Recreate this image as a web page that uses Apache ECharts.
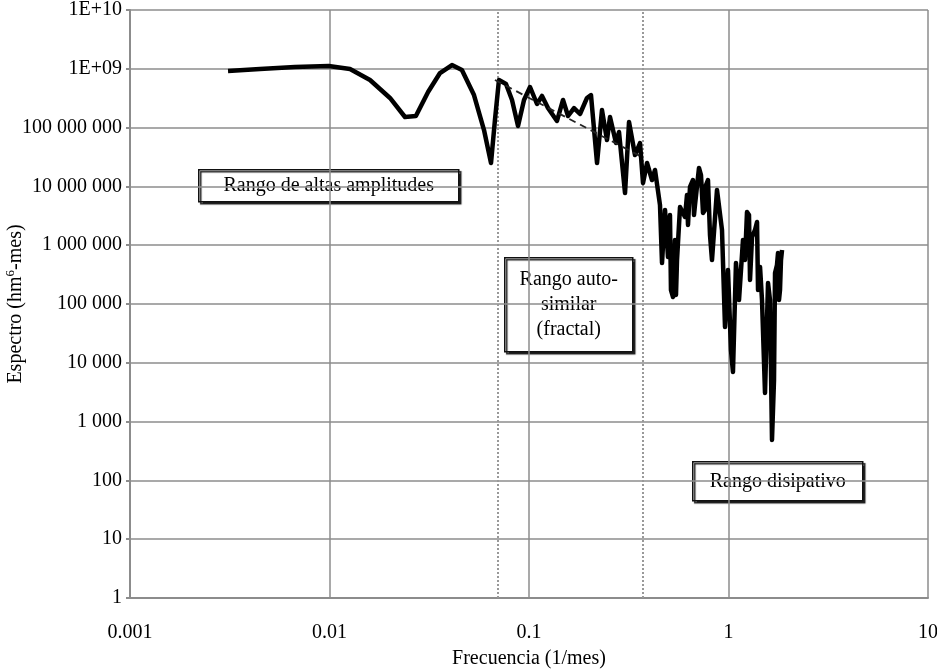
<!DOCTYPE html>
<html>
<head>
<meta charset="utf-8">
<script src="https://cdn.jsdelivr.net/npm/echarts@6/dist/echarts.min.js"></script>
<style>html,body{margin:0;padding:0;background:#fff}#c{width:937px;height:670px}</style>
</head>
<body>
<div id="c"></div>
<script>
// Frequency (1/mes) and spectrum (hm^6-mes)
var freq = [0.0031,0.00448,0.00671,0.0099,0.01267,0.01596,0.0201,0.0239,0.0271,0.0312,0.0358,0.0411,0.0461,0.0530,0.0595,0.0645,0.0675,0.0707,0.0767,0.0822,0.0881,0.0944,0.1012,0.1097,0.1162,0.1245,0.1381,0.1481,0.1569,0.1681,0.1802,0.1953,0.2045,0.2193,0.2322,0.2460,0.2547,0.2730,0.2826,0.3029,0.3172,0.3399,0.3601,0.3728,0.3905,0.4136,0.4282,0.4535,0.4642,0.4806,0.4975,0.5089,0.5148,0.5271,0.5393,0.5455,0.5520,0.5714,0.6053,0.6194,0.6266,0.6412,0.6638,0.6715,0.6792,0.7113,0.7280,0.7450,0.7624,0.7712,0.7892,0.8077,0.8265,0.8757,0.9277,0.9605,0.9942,1.029,1.053,1.090,1.129,1.182,1.210,1.238,1.267,1.282,1.312,1.358,1.390,1.406,1.439,1.472,1.524,1.578,1.614,1.652,1.691,1.711,1.750,1.771,1.791,1.812,1.833,1.855];
var spectrum = [9.18e8,9.92e8,1.073e9,1.116e9,9.92e8,6.45e8,3.19e8,1.515e8,1.575e8,4.03e8,8.48e8,1.16e9,9.54e8,3.58e8,9.1e7,2.5e7,1.347e8,6.45e8,5.51e8,2.95e8,1.065e8,2.95e8,4.9e8,2.52e8,3.45e8,2.15e8,1.295e8,2.95e8,1.575e8,2.15e8,1.703e8,3.19e8,3.58e8,2.5e7,1.992e8,6.15e7,1.515e8,5.47e7,8.42e7,7.72e6,1.245e8,3.42e7,5.47e7,1.142e7,2.5e7,1.285e7,1.9e7,4.83e6,4.98e5,3.97e6,6.3e5,3.26e6,1.73e5,1.315e5,1.226e6,1.423e5,5.6e5,4.46e6,3.02e6,7.14e6,2.21e6,9.77e6,1.285e7,3.26e6,4.83e6,2.06e7,1.563e7,3.53e6,3.97e6,1.056e7,1.285e7,1.491e6,5.6e5,8.69e6,1.813e6,4.06e4,3.79e5,1.651e4,6.97e3,4.98e5,1.17e5,1.226e6,5.6e5,3.67e6,3.26e6,2.56e5,1.378e6,1.813e6,2.48e6,1.73e5,4.26e5,1.17e5,3.06e3,2.28e5,1.17e5,487,5.1e3,3.37e5,4.61e5,7.37e5,1.17e5,1.73e5,5.6e5,8.29e5];
// Dashed power-law fit over the self-similar range
var fitFreq = [0.0675, 0.36];
var fitSpectrum = [6.45e8, 3.29e7];
// Range boundaries (dotted verticals)
var boundaries = [0.0653, 0.368];
// Tick labels
var xTickLabels = {'-3':'0.001','-2':'0.01','-1':'0.1','0':'1','1':'10'};
var yTickLabels = ['1','10','100','1 000','10 000','100 000','1 000 000','10 000 000','100 000 000','1E+09','1E+10'];
var boxTexts = ['Rango de altas amplitudes', 'Rango auto-\nsimilar\n(fractal)', 'Rango disipativo'];

var FONT = '"Liberation Serif", "DejaVu Serif", serif';
var chart = echarts.init(document.getElementById('c'));
var mainData = freq.map(function(f,i){return [f, spectrum[i]];});
var fitData = fitFreq.map(function(f,i){return [f, fitSpectrum[i]];});
var gridColor = '#8c8c8c';

function boxGroup(x, y, w, h, text, lh) {
  return {
    type: 'group', left: x, top: y, z: 100,
    children: [
      {type:'rect', shape:{x:0,y:0,width:w,height:h},
       style:{fill:'#fff', stroke:'#111', lineWidth:1.5, shadowColor:'#222', shadowOffsetX:2, shadowOffsetY:2, shadowBlur:1}},
      {type:'text', x:w/2, y:h/2,
       style:{text:text, fill:'#000', font:'20px ' + FONT, align:'center', verticalAlign:'middle', lineHeight: lh || 24}}
    ]
  };
}

chart.setOption({
  animation: false,
  backgroundColor: '#fff',
  grid: {left:130, right:9, top:10, bottom:72, containLabel:false, outerBoundsMode:'none'},
  xAxis: {
    type:'log', logBase:10, min:0.001, max:10, interval:1,
    name:'Frecuencia (1/mes)', nameLocation:'middle', nameGap:51, nameMoveOverlap:false,
    nameTextStyle:{fontFamily:FONT, fontSize:20, color:'#000'},
    axisLine:{show:true, lineStyle:{color:gridColor, width:2}},
    axisTick:{show:false},
    axisLabel:{margin:25, fontFamily:FONT, fontSize:20, color:'#000',
      formatter:function(v){var e=Math.round(Math.log10(v)); return xTickLabels[String(e)];}},
    splitLine:{show:true, lineStyle:{color:gridColor, width:1.5}},
    minorTick:{show:false}
  },
  yAxis: {
    type:'log', logBase:10, min:1, max:1e10, interval:1,
    name:'Espectro (hm{sup|6}-mes)', nameLocation:'middle', nameGap:103, nameRotate:90, nameMoveOverlap:false,
    nameTextStyle:{fontFamily:FONT, fontSize:20, color:'#000',
      rich:{sup:{fontFamily:FONT, fontSize:13, verticalAlign:'top', padding:[0,0,10,0], color:'#000'}}},
    axisLine:{show:true, lineStyle:{color:gridColor, width:2}},
    axisTick:{show:true, inside:false, length:4, lineStyle:{color:gridColor, width:2}},
    axisLabel:{margin:8, fontFamily:FONT, fontSize:20, color:'#000',
      formatter:function(v){var e=Math.round(Math.log10(v)); return yTickLabels[e];}},
    splitLine:{show:true, lineStyle:{color:gridColor, width:1.5}}
  },
  series: [
    {
      type:'line', data:[], silent:true,
      markLine:{silent:true, symbol:'none', label:{show:false},
        lineStyle:{color:'#999', type:'dotted', width:2},
        data: boundaries.map(function(b){return {xAxis:b};})}
    },
    {
      type:'line', data:mainData, showSymbol:false, symbol:'none',
      lineStyle:{color:'#000', width:4.5, join:'round'}, z:5
    },
    {
      type:'line', data:fitData, showSymbol:false, symbol:'none',
      lineStyle:{color:'#222', width:1.8, type:[7,5]}, z:6
    }
  ],
  graphic: [
    boxGroup(198, 169, 260, 32, boxTexts[0]),
    boxGroup(504, 257, 128, 94, boxTexts[1], 25),
    boxGroup(692, 461, 170, 39, boxTexts[2])
  ]
});
</script>
</body>
</html>
